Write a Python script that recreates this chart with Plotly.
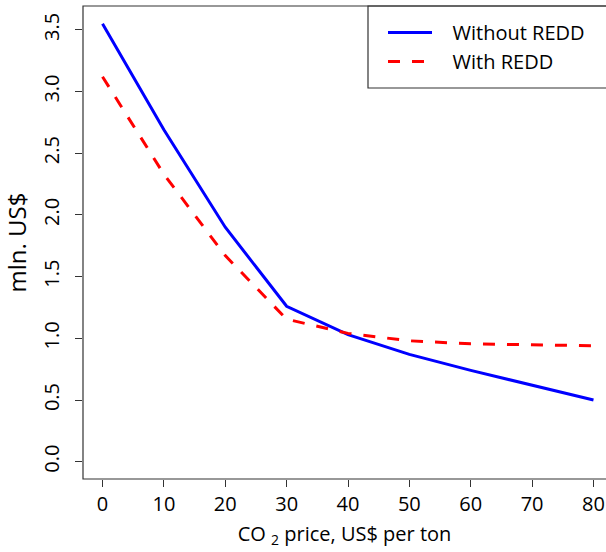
import plotly.graph_objects as go

price = [0, 10, 20, 30, 40, 50, 60, 70, 80]
without_redd = [3.55, 2.69, 1.90, 1.26, 1.03, 0.87, 0.74, 0.62, 0.50]
with_redd = [3.12, 2.33, 1.67, 1.155, 1.04, 0.98, 0.955, 0.945, 0.94]
x_ticks = [0, 10, 20, 30, 40, 50, 60, 70, 80]
y_ticks = [0.0, 0.5, 1.0, 1.5, 2.0, 2.5, 3.0, 3.5]
y_tick_labels = ["0.0", "0.5", "1.0", "1.5", "2.0", "2.5", "3.0", "3.5"]
series_names = ["Without REDD", "With REDD"]

FONT = "Open Sans"
PAD = "\u00a0\u00a0\u00a0"
fig = go.Figure()
fig.add_trace(go.Scatter(x=price, y=without_redd, mode="lines", name=PAD + series_names[0],
                         line=dict(color="#0000FF", width=3)))
fig.add_trace(go.Scatter(x=price, y=with_redd, mode="lines", name=PAD + series_names[1],
                         line=dict(color="#FF0000", width=3, dash="12px,12px")))

fig.update_layout(
    width=606, height=552,
    margin=dict(l=83, r=0, t=6, b=73),
    plot_bgcolor="white", paper_bgcolor="white",
    font=dict(family=FONT, size=20, color="black"),
    showlegend=True,
    legend=dict(x=(383 - 83) / 523, y=1 - 7 / 473, xref="paper", yref="paper",
                xanchor="left", yanchor="top",
                bgcolor="rgba(0,0,0,0)", borderwidth=0, font=dict(size=20),
                itemwidth=44),
    xaxis=dict(range=[-3.18, 82.04], tickvals=x_ticks, ticks="outside", ticklen=7,
               tickcolor="#333", showgrid=False, zeroline=False, showline=False,
               title=dict(text="CO <sub>2</sub> price, US$ per ton", standoff=10,
                          font=dict(family=FONT, size=20)))
    ,
    yaxis=dict(range=[-0.14, 3.693], tickvals=y_ticks, ticktext=y_tick_labels,
               ticks="outside", ticklen=7, tickcolor="#333", tickangle=-90,
               ticklabelstandoff=8,
               showgrid=False, zeroline=False, showline=False,
               title=dict(text="mln. US$", standoff=5)),
)
# plot box (right side lies beyond the picture)
fig.add_shape(type="rect", xref="paper", yref="paper", x0=0, x1=1.05, y0=0, y1=1,
              line=dict(color="#333", width=1.2), layer="above")
# legend box
fig.add_shape(type="rect", xref="paper", yref="paper",
              x0=(368 - 83) / 523, x1=1.05, y0=(552 - 73 - 88) / 473, y1=1,
              line=dict(color="#333", width=1.2), layer="above")
fig.write_html("out.html", post_script="document.body.style.margin='0';",
               config={"displayModeBar": False})
